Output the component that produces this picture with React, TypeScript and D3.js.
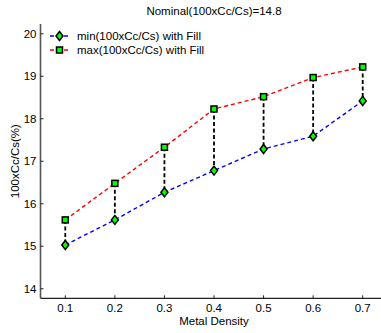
import React from "react";
import * as d3 from "d3";

const densities = [0.1, 0.2, 0.3, 0.4, 0.5, 0.6, 0.7];
const minValues = [15.03, 15.62, 16.27, 16.78, 17.29, 17.59, 18.42];
const maxValues = [15.62, 16.48, 17.33, 18.23, 18.52, 18.97, 19.22];
const xTicks = [0.1, 0.2, 0.3, 0.4, 0.5, 0.6, 0.7];
const yTicks = [14, 15, 16, 17, 18, 19, 20];
const legendLabels = ["min(100xCc/Cs) with Fill", "max(100xCc/Cs) with Fill"];
const title = "Nominal(100xCc/Cs)=14.8";
const xLabel = "Metal Density";
const yLabel = "100xCc/Cs(%)";

const W = 381;
const H = 333;
const FONT = "'Liberation Sans', Arial, Helvetica, sans-serif";
const FS = 11.5;

export default function App() {
  const x = d3.scaleLinear().domain([0.05, 0.75]).range([40.5, 387.5]);
  const y = d3.scaleLinear().domain([13.775, 20.23]).range([298.3, 24]);
  const line = d3
    .line<[number, number]>()
    .x((d) => x(d[0]))
    .y((d) => y(d[1]));
  const minPts: [number, number][] = densities.map((d, i) => [d, minValues[i]]);
  const maxPts: [number, number][] = densities.map((d, i) => [d, maxValues[i]]);

  const diamond = (cx: number, cy: number, key: string) => (
    <path
      key={key}
      d={`M${cx},${cy - 4.5}L${cx + 3.5},${cy}L${cx},${cy + 4.5}L${cx - 3.5},${cy}Z`}
      fill="#00ff00"
      stroke="#000"
      strokeWidth={1.5}
    />
  );
  const square = (cx: number, cy: number, key: string) => (
    <rect
      key={key}
      x={cx - 3}
      y={cy - 3}
      width={6}
      height={6}
      fill="#00ff00"
      stroke="#000"
      strokeWidth={1.5}
    />
  );

  const x0 = x.range()[0];
  const yb = y.range()[0];
  const yt = y.range()[1];

  return (
    <svg
      width={W}
      height={H}
      style={{ position: "absolute", left: 0, top: 0, background: "#fff" }}
      fontFamily={FONT}
      fontSize={FS}
    >
      <rect x={0} y={0} width={W} height={H} fill="#fff" />
      {/* axes */}
      <line x1={x0} x2={x0} y1={yt} y2={yb} stroke="#555" strokeWidth={1.6} />
      <line x1={x0} x2={W} y1={yb} y2={yb} stroke="#222" strokeWidth={1.2} />
      {yTicks.map((t) => (
        <g key={"yt" + t}>
          <line x1={x0} x2={x0 + 3} y1={y(t)} y2={y(t)} stroke="#222" />
          <text x={x0 - 4} y={y(t)} dy="0.35em" textAnchor="end" fill="#000">
            {t}
          </text>
        </g>
      ))}
      {xTicks.map((t) => (
        <g key={"xt" + t}>
          <line x1={x(t)} x2={x(t)} y1={yb} y2={yb - 3} stroke="#222" />
          <text x={x(t)} y={yb + 13.5} textAnchor="middle" fill="#000">
            {d3.format(".1f")(t)}
          </text>
        </g>
      ))}
      <text x={214} y={325} textAnchor="middle" fill="#000">
        {xLabel}
      </text>
      <text
        transform={`translate(19,${(yt + yb) / 2}) rotate(-90)`}
        textAnchor="middle"
        fill="#000"
      >
        {yLabel}
      </text>
      <text x={214} y={15} textAnchor="middle" fill="#000">
        {title}
      </text>

      {/* series lines */}
      <path d={line(minPts) || ""} fill="none" stroke="#0000ff" strokeWidth={1.4} strokeDasharray="4,3" />
      <path d={line(maxPts) || ""} fill="none" stroke="#ff0000" strokeWidth={1.4} strokeDasharray="4,3" />
      {/* connectors */}
      {densities.map((d, i) => (
        <line
          key={"c" + i}
          x1={x(d)}
          x2={x(d)}
          y1={y(maxValues[i])}
          y2={y(minValues[i])}
          stroke="#000"
          strokeWidth={1.8}
          strokeDasharray="4,2.5"
        />
      ))}
      {minPts.map((p, i) => diamond(x(p[0]), y(p[1]), "d" + i))}
      {maxPts.map((p, i) => square(x(p[0]), y(p[1]), "s" + i))}

      {/* legend */}
      <g>
        <line x1={50} x2={69} y1={36} y2={36} stroke="#0000ff" strokeWidth={1.4} strokeDasharray="4,3" />
        {diamond(59.5, 36, "ld")}
        <text x={77} y={36} dy="0.35em" fill="#000">
          {legendLabels[0]}
        </text>
        <line x1={50} x2={69} y1={50} y2={50} stroke="#ff0000" strokeWidth={1.4} strokeDasharray="4,3" />
        {square(59.5, 50, "ls")}
        <text x={77} y={50} dy="0.35em" fill="#000">
          {legendLabels[1]}
        </text>
      </g>
    </svg>
  );
}
